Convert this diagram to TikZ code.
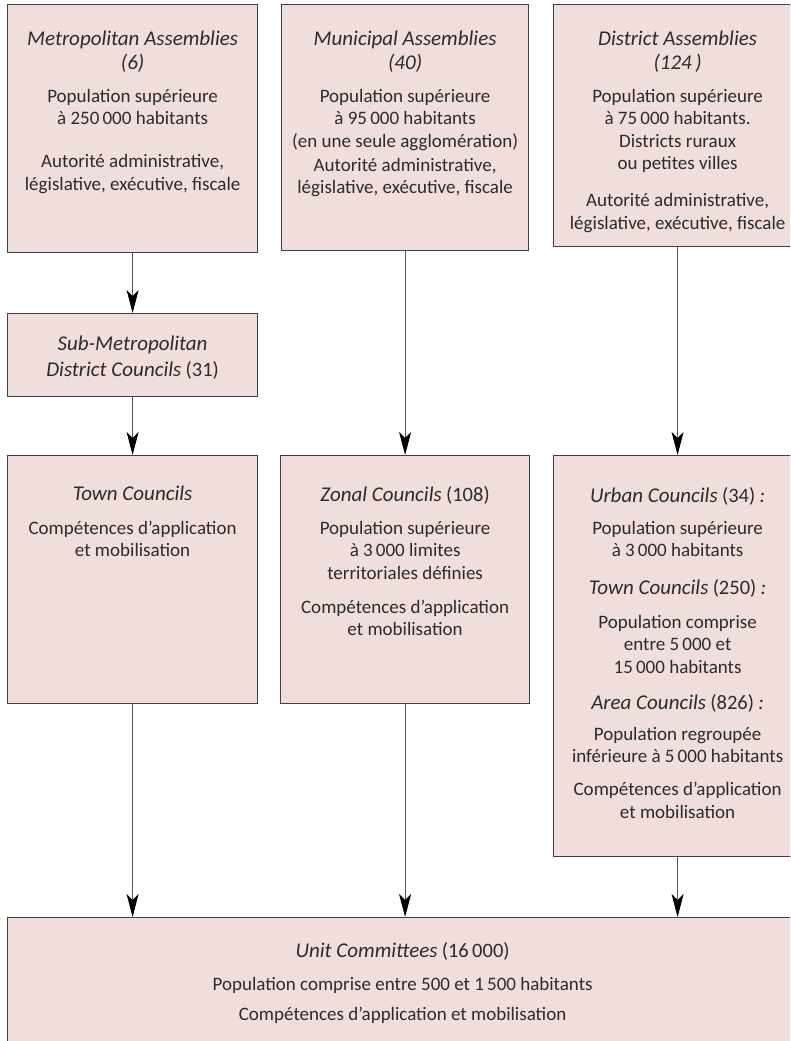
\documentclass[tikz,border=0pt]{standalone}
\usepackage{fontspec}
\setmainfont{Carlito}
\usetikzlibrary{arrows.meta}
\definecolor{boxfill}{HTML}{F0DEDC}
\definecolor{boxline}{HTML}{404040}
\definecolor{inkgray}{HTML}{2B2B2B}
\definecolor{linkgray}{HTML}{555555}
\newcommand{\topstrut}{\rule{0pt}{16pt}}
\newcommand{\headtxt}[1]{{\fontsize{21}{22.5}\selectfont\itshape #1}}
\newcommand{\headnum}[1]{{\fontsize{20.5}{22.5}\selectfont #1}}
\begin{document}
\begin{tikzpicture}[x=1pt,y=-1pt,
  box/.style={draw=boxline, line width=1.2pt, fill=boxfill, rectangle,
    inner sep=0pt, anchor=north west},
  txt/.style={text=inkgray, align=center, inner sep=0pt, anchor=north,
    font=\fontsize{19}{22.5}\selectfont},
  link/.style={draw=linkgray, line width=0.9pt,
    -{Stealth[length=23pt,width=12pt,inset=6pt,fill=black,color=black]}}]
\useasboundingbox (0,0) rectangle (790,1041);
\clip (0,0) rectangle (790,1041);

% upper tier: assemblies
\node[box, minimum width=250pt, minimum height=248pt] (metro) at (7,4) {};
\node[box, minimum width=247pt, minimum height=246pt] (muni) at (281,4) {};
\node[box, minimum width=248pt, minimum height=242pt] (dist) at (553,4) {};

% intermediate tier
\node[box, minimum width=250pt, minimum height=83pt] (sub) at (7,313) {};

% lower tier: councils
\node[box, minimum width=250pt, minimum height=248pt] (town) at (7,455) {};
\node[box, minimum width=249pt, minimum height=248pt] (zonal) at (280,455) {};
\node[box, minimum width=248pt, minimum height=401pt] (urban) at (553,455) {};

% unit committees
\node[box, minimum width=790pt, minimum height=140pt] (unit) at (7,917) {};

% texts
\node[txt] (metro-t) at ([yshift=-25pt]metro.north)
  {\topstrut\headtxt{Metropolitan Assemblies}\\[1.5pt]\headtxt{(6)}\\[10.5pt]
   Population supérieure\\à 250\,000 habitants\\[20.5pt]
   Autorité administrative,\\législative, exécutive, fiscale};
\node[txt] (muni-t) at ([yshift=-25pt]muni.north)
  {\topstrut\headtxt{Municipal Assemblies}\\[1.5pt]\headtxt{(40)}\\[10.5pt]
   Population supérieure\\à 95\,000 habitants\\(en une seule agglomération)\\[1.5pt]
   Autorité administrative,\\législative, exécutive, fiscale};
\node[txt] (dist-t) at ([yshift=-25pt]dist.north)
  {\topstrut\headtxt{District Assemblies}\\[1.5pt]\headtxt{(124\,)}\\[10.5pt]
   Population supérieure\\à 75\,000 habitants.\\Districts ruraux\\ou petites villes\\[14.5pt]
   Autorité administrative,\\législative, exécutive, fiscale};
\node[txt] (sub-t) at ([yshift=-21pt]sub.north)
  {\topstrut\headtxt{Sub-Metropolitan}\\[3.5pt]\headtxt{District Councils} \headnum{(31)}};
\node[txt] (town-t) at ([yshift=-29pt]town.north)
  {\topstrut\headtxt{Town Councils}\\[11.5pt]
   Compétences d’application\\et mobilisation};
\node[txt] (zonal-t) at ([yshift=-30pt]zonal.north)
  {\topstrut\headtxt{Zonal Councils} \headnum{(108)}\\[10.5pt]
   Population supérieure\\à 3\,000 limites\\territoriales définies\\[11.5pt]
   Compétences d’application\\et mobilisation};
\node[txt] (urban-t) at ([yshift=-31pt]urban.north)
  {\topstrut\headtxt{Urban Councils} \headnum{(34)} \headtxt{:}\\[9.5pt]
   Population supérieure\\à 3\,000 habitants\\[15pt]
   \headtxt{Town Councils} \headnum{(250)} \headtxt{:}\\[11.5pt]
   Population comprise\\entre 5\,000 et\\15\,000 habitants\\[13.5pt]
   \headtxt{Area Councils} \headnum{(826)} \headtxt{:}\\[8.5pt]
   Population regroupée\\inférieure à 5\,000 habitants\\[10.5pt]
   Compétences d’application\\et mobilisation};
\node[txt] (unit-t) at ([yshift=-24pt]unit.north)
  {\topstrut\headtxt{Unit Committees} \headnum{(16\,000)}\\[10.5pt]
   Population comprise entre 500 et 1\,500 habitants\\[7.5pt]
   Compétences d’application et mobilisation};

% hierarchy links
\draw[link] (metro.south) -- (sub.north);
\draw[link] (sub.south) -- (town.north);
\draw[link] (muni.south) -- (zonal.north);
\draw[link] (dist.south) -- (urban.north);
\draw[link] (town.south) -- (town.south |- unit.north);
\draw[link] (zonal.south) -- (zonal.south |- unit.north);
\draw[link] (urban.south) -- (urban.south |- unit.north);
\end{tikzpicture}
\end{document}
